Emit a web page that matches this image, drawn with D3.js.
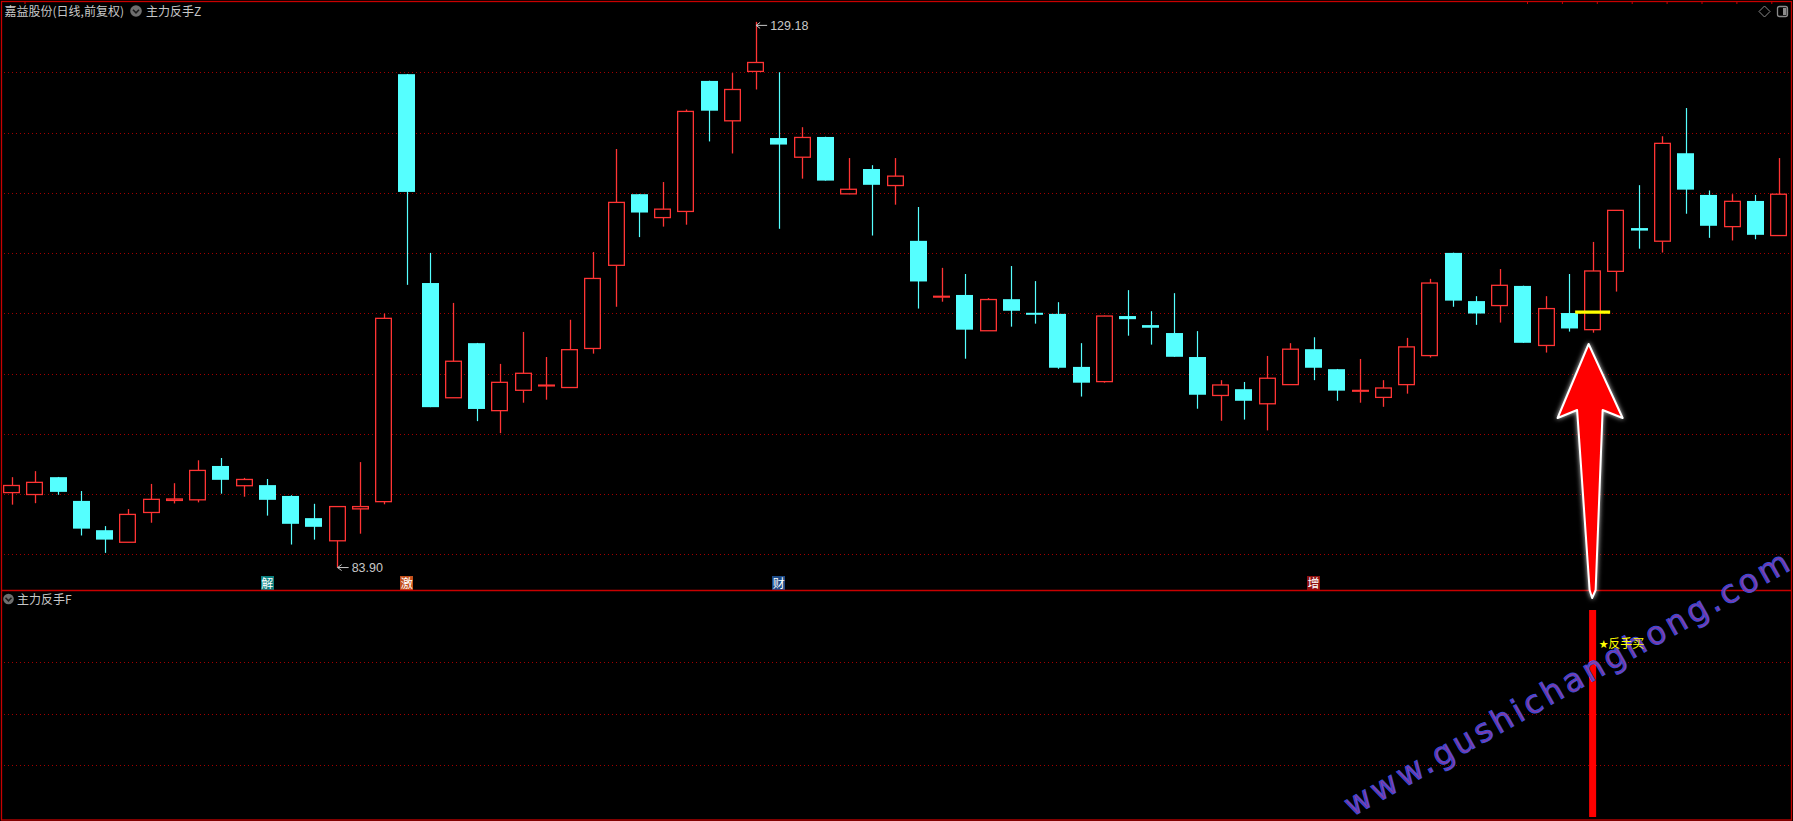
<!DOCTYPE html>
<html><head><meta charset="utf-8">
<script src="https://cdn.jsdelivr.net/npm/d3@7"></script>
<style>html,body{margin:0;padding:0;background:#000;overflow:hidden}</style>
</head><body><svg id="c" width="1793" height="821"></svg>
<script>
// ---- data (trading days 1..77) ----
const opens = [90.12,89.96,91.40,89.43,87.00,86.00,88.47,89.47,89.52,92.33,90.69,90.74,89.84,88.00,86.12,88.77,89.37,124.84,107.51,97.99,
102.52,96.92,98.61,99.00,98.84,102.08,108.98,114.88,112.94,113.45,124.28,120.97,125.07,119.54,117.95,119.63,114.91,116.97,115.60,111.01,
106.37,106.52,103.55,106.17,105.04,104.95,100.55,99.33,104.77,104.02,103.36,101.37,98.18,98.70,97.49,99.08,102.02,100.36,98.56,98.02,
99.08,101.49,110.01,106.01,105.64,107.27,102.33,105.02,103.64,108.48,112.07,110.98,118.28,114.82,112.19,114.32,111.45];
const closes = [90.71,90.97,90.18,87.13,86.22,88.31,89.56,89.59,91.96,91.18,91.21,89.52,87.53,87.28,88.96,88.96,104.58,115.07,97.21,101.02,
97.06,99.27,100.02,99.04,101.98,107.89,114.20,113.36,113.64,121.75,121.81,123.57,125.81,119.00,119.59,116.01,115.29,115.66,116.38,107.64,
106.41,103.64,106.14,105.21,105.00,100.48,99.24,104.77,104.51,103.80,101.39,98.24,99.05,97.74,99.61,102.02,100.48,98.58,98.60,98.80,
102.21,107.51,106.05,104.98,107.32,102.55,105.39,103.74,108.51,113.54,111.86,119.10,115.26,112.26,114.29,111.51,114.88];
const highs = [91.40,91.90,91.42,90.25,87.34,88.75,90.84,90.90,92.80,92.99,91.34,91.25,89.90,89.19,88.98,92.65,104.98,124.86,110.01,105.86,
102.54,100.80,103.45,101.37,104.46,110.08,118.63,114.90,115.89,121.91,124.30,124.93,129.18,125.00,120.44,119.65,117.88,117.29,117.88,113.82,
108.77,108.26,106.26,108.92,107.67,105.92,102.52,104.80,106.92,105.17,106.67,103.52,99.45,99.30,101.46,102.52,103.01,100.38,101.21,99.45,
102.96,107.86,110.03,106.42,108.67,107.29,106.42,108.26,110.92,113.56,115.63,119.69,122.03,115.19,114.88,114.82,117.88];
const lows = [89.12,89.24,89.94,86.56,85.12,86.00,87.62,89.22,89.31,90.03,89.78,88.21,85.81,86.22,83.90,86.71,89.15,107.36,97.21,97.99,
96.05,95.05,97.58,97.83,98.84,101.65,105.54,111.32,112.19,112.35,119.26,118.26,123.57,112.01,116.17,116.01,114.88,111.45,114.01,105.39,
105.96,101.23,103.55,103.89,104.14,100.39,98.09,99.24,103.14,102.40,101.39,97.08,96.08,96.18,95.28,99.08,99.45,97.74,97.58,97.24,
98.33,101.33,105.54,104.04,104.23,102.55,101.74,103.48,103.39,106.80,110.36,110.04,113.26,111.26,111.04,111.14,111.45];
const priceTicks = [85,90,95,100,105,110,115,120,125];
const signalTicks = [0.25,0.5,0.75];
const signalDay = 68;          // zero-based day of the 反手买 signal
const signalValue = 1;
const signalLevel = 105.1;     // yellow level line
const markerDays = [11,17,33,56];
const markerTexts = ["解","激","财","增"];
const markerColors = ["#0b7f7f","#c4501c","#1c4a86","#8e1010"];
const titleMain = "嘉益股份(日线,前复权)";
const indMain = "主力反手Z";
const indSub = "主力反手F";
const signalText = "反手买";
const watermark = "www.gushichanghong.com";

// ---- drawing ----
const W = 1793, H = 821;
const svg = d3.select("#c");
const defs = svg.append("defs");
const glow = defs.append("filter").attr("id","glow").attr("x","-50%").attr("y","-20%").attr("width","200%").attr("height","140%");
glow.append("feGaussianBlur").attr("in","SourceAlpha").attr("stdDeviation",2.5).attr("result","b");
glow.append("feFlood").attr("flood-color","#ffffff").attr("flood-opacity",0.8);
glow.append("feComposite").attr("in2","b").attr("operator","in").attr("result","g");
const fm = glow.append("feMerge"); fm.append("feMergeNode").attr("in","g"); fm.append("feMergeNode").attr("in","SourceGraphic");

svg.append("rect").attr("width",W).attr("height",H).attr("fill","#000");

const n = opens.length;
const x = d3.scaleBand().domain(d3.range(n)).range([0, 1790.25]).paddingInner(0.27).paddingOuter(0.135);
const cxOf = i => x(i) + x.bandwidth()/2;
const y = d3.scaleLinear().domain([85,125]).range([554.3, 72.25]);
const ys = d3.scaleLinear().domain([0,1]).range([817, 610]);

const gridColor = "#a30000";
svg.append("g").selectAll("line").data(priceTicks).join("line")
  .attr("x1",4).attr("x2",1790)
  .attr("y1",d=>Math.round(y(d))+0.5).attr("y2",d=>Math.round(y(d))+0.5)
  .attr("stroke",gridColor).attr("stroke-dasharray","1,3");
svg.append("g").selectAll("line").data(signalTicks).join("line")
  .attr("x1",4).attr("x2",1790)
  .attr("y1",d=>Math.round(ys(d))+0.5).attr("y2",d=>Math.round(ys(d))+0.5)
  .attr("stroke",gridColor).attr("stroke-dasharray","1,3");

// candles
const data = d3.range(n).map(i=>({i,o:opens[i],c:closes[i],h:highs[i],l:lows[i]}));
const cg = svg.append("g");
data.forEach(d=>{
  const up = d.c >= d.o;
  const col = up ? "#ff3434" : "#55ffff";
  const cx = Math.round(cxOf(d.i)) + 0.5;
  const top = y(Math.max(d.o,d.c)), bot = y(Math.min(d.o,d.c));
  const bx = Math.round(x(d.i)), bw = Math.round(x.bandwidth());
  cg.append("line").attr("x1",cx).attr("x2",cx).attr("y1",y(d.h)).attr("y2",y(d.l))
    .attr("stroke",col).attr("stroke-width", up?1.3:1.2);
  if (up) {
    cg.append("rect").attr("x",bx+0.65).attr("y",top).attr("width",bw-1.3).attr("height",Math.max(bot-top,0.8))
      .attr("fill","#000").attr("stroke",col).attr("stroke-width",1.3);
  } else {
    cg.append("rect").attr("x",bx).attr("y",top).attr("width",bw).attr("height",Math.max(bot-top,2))
      .attr("fill",col);
  }
});

// yellow level line at the signal day
svg.append("line").attr("x1",cxOf(signalDay)-17.5).attr("x2",cxOf(signalDay)+17.5)
  .attr("y1",y(signalLevel)).attr("y2",y(signalLevel)).attr("stroke","#ffff00").attr("stroke-width",3.2);

// high / low annotations
const hiI = d3.maxIndex(highs), loI = d3.minIndex(lows);
const lblCol = "#c8c8c8";
function annot(i, v, dy){
  const x0 = cxOf(i)+0.5, y0 = y(v)+dy;
  const ag = svg.append("g");
  ag.append("line").attr("x1",x0).attr("x2",x0+11).attr("y1",y0).attr("y2",y0).attr("stroke",lblCol).attr("stroke-width",1);
  ag.append("path").attr("d",`M${x0+4},${y0-3}L${x0},${y0}L${x0+4},${y0+3}`).attr("fill","none").attr("stroke",lblCol).attr("stroke-width",1);
  ag.append("text").attr("x",x0+14).attr("y",y0+4.5).attr("fill",lblCol)
    .attr("font-family","Liberation Sans, Arial, sans-serif").attr("font-size",12.5).text(v.toFixed(2));
}
annot(hiI, highs[hiI], 3.5);
annot(loI, lows[loI], 0);

// markers
svg.append("g").selectAll("g").data(markerDays).join("g").each(function(d,k){
  const g = d3.select(this); const cx = cxOf(d);
  g.append("rect").attr("x",Math.round(cx-6.5)).attr("y",576).attr("width",13).attr("height",14).attr("fill",markerColors[k]);
  g.append("text").attr("x",cx).attr("y",587.5).attr("text-anchor","middle").attr("fill","#fff")
    .attr("font-family","Noto Sans CJK SC").attr("font-size",12).text(markerTexts[k]);
});

// signal bar in lower panel
svg.append("rect").attr("x",cxOf(signalDay)-3.5).attr("y",ys(signalValue)).attr("width",7)
  .attr("height",ys(0)-ys(signalValue)).attr("fill","#ff0000");

// borders
const bc = "#c80000";
svg.append("rect").attr("x",1.5).attr("y",1.5).attr("width",1790).attr("height",818.5).attr("fill","none").attr("stroke",bc).attr("stroke-width",1.3);
svg.append("line").attr("x1",2).attr("x2",1791).attr("y1",590.5).attr("y2",590.5).attr("stroke",bc).attr("stroke-width",1.5);
const topTicks = [25].concat(d3.range(8).map(k=>1527.5+k*34.9));
svg.append("g").selectAll("line").data(topTicks).join("line")
  .attr("x1",d=>d).attr("x2",d=>d).attr("y1",1).attr("y2",4).attr("stroke",bc);

// titles
const tf = "Noto Sans CJK SC";
svg.append("text").attr("x",4.5).attr("y",15.5).attr("fill","#c8c8c8").attr("font-family",tf).attr("font-size",12).text(titleMain);
function chevIcon(cx, cy, r){
  svg.append("circle").attr("cx",cx).attr("cy",cy).attr("r",r).attr("fill","#6e6e6e");
  svg.append("path").attr("d",`M${cx-3},${cy-1.2}L${cx},${cy+1.8}L${cx+3},${cy-1.2}`).attr("fill","none").attr("stroke","#1a1a1a").attr("stroke-width",1.6);
}
chevIcon(136, 11, 5.8);
svg.append("text").attr("x",146).attr("y",15.5).attr("fill","#c8c8c8").attr("font-family",tf).attr("font-size",12).text(indMain);
chevIcon(8.5, 599, 5.3);
svg.append("text").attr("x",17).attr("y",603.5).attr("fill","#c8c8c8").attr("font-family",tf).attr("font-size",12).text(indSub);

// top-right icons
svg.append("path").attr("d","M1764.5,6L1770,11.5L1764.5,17L1759,11.5Z").attr("fill","none").attr("stroke","#8a8a8a").attr("stroke-width",1);
svg.append("rect").attr("x",1777.5).attr("y",6.5).attr("width",10).attr("height",10).attr("rx",2).attr("fill","none").attr("stroke","#8a8a8a").attr("stroke-width",1.3);
svg.append("rect").attr("x",1783).attr("y",8).attr("width",3.5).attr("height",7).attr("fill","#8a8a8a");

// big red arrow pointing at the signal candle
const ax = cxOf(signalDay);
const arrowPts = [[ax-4,344],[ax+30,418],[ax+10,410],[ax+3,590],[ax-0.5,598],[ax-3,590],[ax-15.5,410],[ax-35,418]];
svg.append("path").attr("d", d3.line()(arrowPts)+"Z").attr("fill","#ff0000").attr("stroke","#ffffff")
  .attr("stroke-width",2).attr("stroke-linejoin","round").attr("filter","url(#glow)");

// watermark
svg.append("text").attr("transform","translate(1352,817) rotate(-29.4)")
  .attr("font-family","DejaVu Sans").attr("font-size",32).attr("textLength",505).attr("lengthAdjust","spacing")
  .attr("fill","#8a3fae").attr("stroke","#3d4cd8").attr("stroke-width",1).attr("fill-opacity",0.95)
  .text(watermark);

// signal label on top
svg.append("text").attr("x",cxOf(signalDay)+6).attr("y",647.5).attr("fill","#ffff00")
  .attr("font-family","DejaVu Sans").attr("font-size",11).text("★");
svg.append("text").attr("x",cxOf(signalDay)+15.5).attr("y",647.5).attr("fill","#ffff00")
  .attr("font-family","Noto Sans CJK SC").attr("font-size",12).text(signalText);
</script></body></html>
